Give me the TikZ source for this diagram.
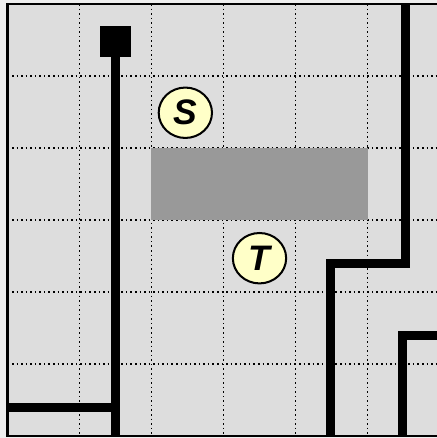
\documentclass[tikz,border=0pt]{standalone}
\usepackage{fontspec}
\setmainfont{Liberation Sans}
\usetikzlibrary{shapes.geometric}
\definecolor{outbg}{HTML}{EEEEEE}
\definecolor{inbg}{HTML}{DDDDDD}
\definecolor{blkgray}{HTML}{999999}
\definecolor{tokfill}{HTML}{FFFFC8}
\tikzset{
  grd/.style={line width=0.6pt, dash pattern=on 0.6pt off 1.2pt},
  wall/.style={line width=3.6pt, line join=miter, line cap=butt},
  border/.style={draw, line width=1.1pt},
  tok/.style={draw, ellipse, line width=0.8pt, fill=tokfill, minimum width=0.74cm, minimum height=0.70cm, inner sep=0pt, font=\fontsize{14}{14}\selectfont\bfseries\itshape},
  srcbox/.style={fill=black, minimum size=0.43cm, inner sep=0pt}
}
\begin{document}
\begin{tikzpicture}[x=1cm, y=-1cm]
  \useasboundingbox (0,0) rectangle (6.069,6.083);
  \clip (0,0) rectangle (6.069,6.083);
  \fill[outbg] (0,0) rectangle (6.069,6.083);
  \begin{scope}[shift={(0.104,0.056)}]
    % floor and grid
    \fill[inbg] (0,0) rectangle (6,6);
    \foreach \i in {1,...,5} {
      \draw[grd] (\i,0) -- (\i,6);
      \draw[grd] (0,\i) -- (6,\i);
    }
    \draw[border] (0,0) rectangle (6,6);
    % obstacle
    \fill[blkgray] (2,2) rectangle (5,3);
    % walls
    \node[srcbox] (src) at (1.5,0.52) {};
    \draw[wall] (src.south) -- (1.5,6);
    \draw[wall] (0,5.6) -- (1.5,5.6);
    \draw[wall] (5.53,0) -- (5.53,3.6) -- (4.49,3.6) -- (4.49,6);
    \draw[wall] (6.1,4.6) -- (5.49,4.6) -- (5.49,6);
    % tokens
    \node[tok] (s) at (2.47,1.51) {S};
    \node[tok] (t) at (3.5,3.53) {T};
  \end{scope}
\end{tikzpicture}
\end{document}
